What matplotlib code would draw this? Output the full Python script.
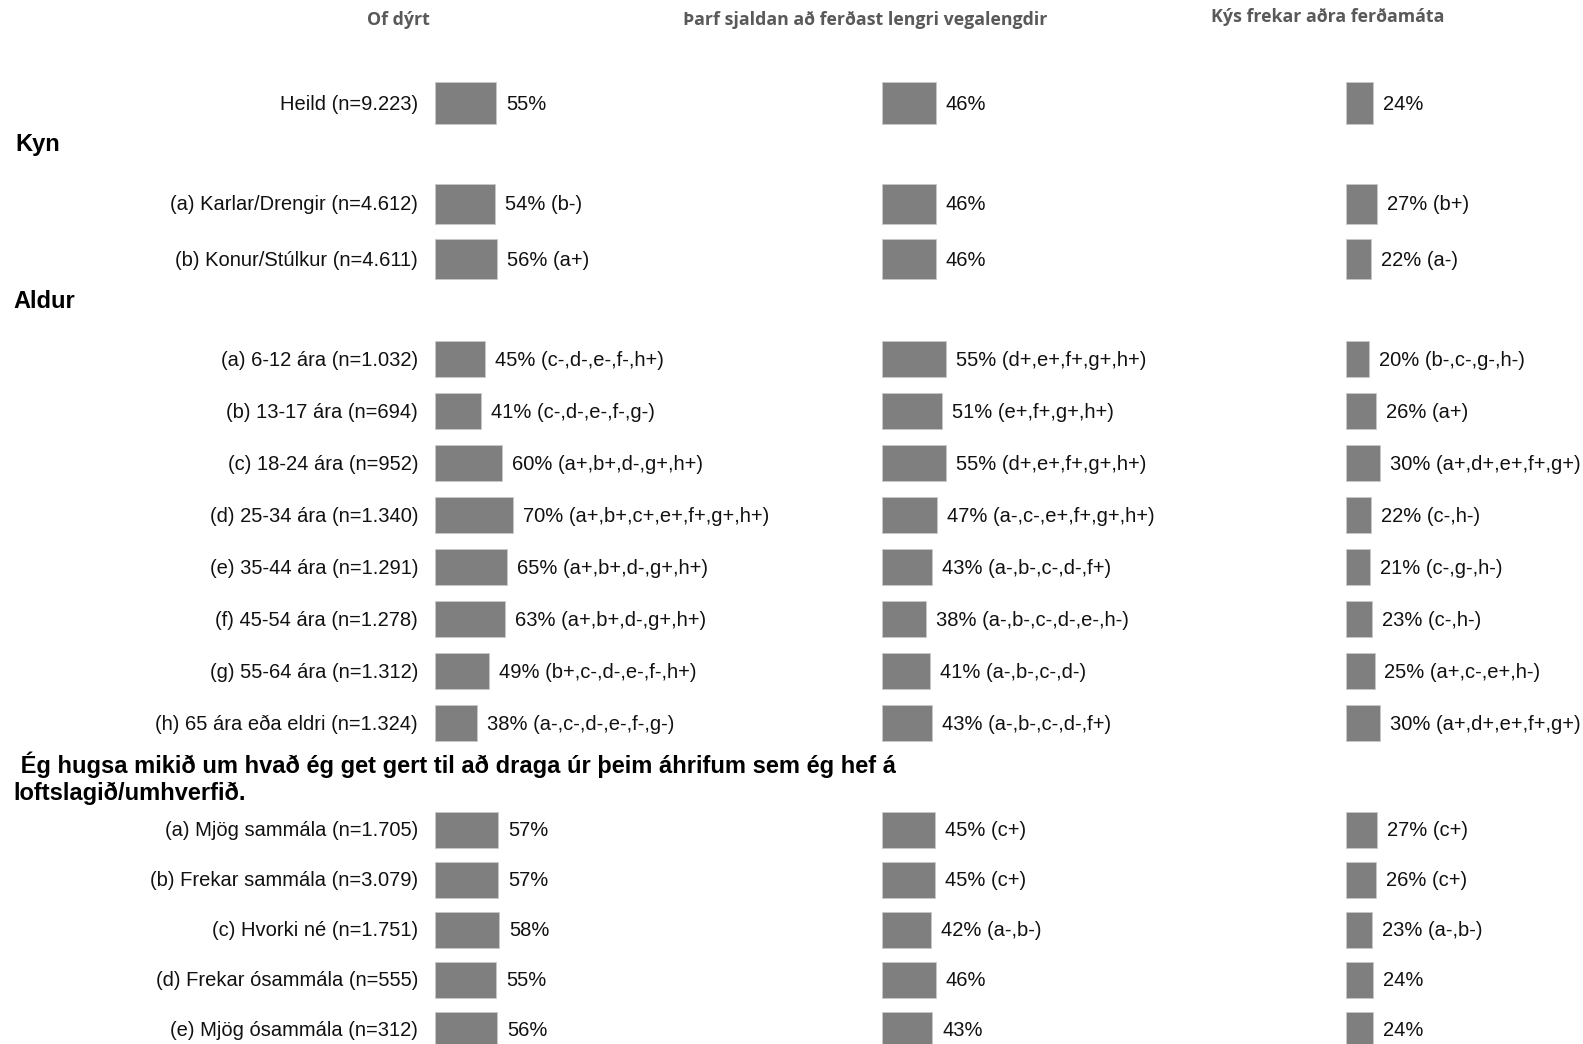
import matplotlib.pyplot as plt

W, H = 1583, 1044

# column titles
titles = ["Of dýrt", "Þarf sjaldan að ferðast lengri vegalengdir", "Kýs frekar aðra ferðamáta"]

# row labels per group
heild_labels = ["Heild (n=9.223)"]
kyn_labels = ["(a) Karlar/Drengir (n=4.612)", "(b) Konur/Stúlkur (n=4.611)"]
aldur_labels = ["(a) 6-12 ára (n=1.032)", "(b) 13-17 ára (n=694)", "(c) 18-24 ára (n=952)",
                "(d) 25-34 ára (n=1.340)", "(e) 35-44 ára (n=1.291)", "(f) 45-54 ára (n=1.278)",
                "(g) 55-64 ára (n=1.312)", "(h) 65 ára eða eldri (n=1.324)"]
hugsa_labels = ["(a) Mjög sammála (n=1.705)", "(b) Frekar sammála (n=3.079)", "(c) Hvorki né (n=1.751)",
                "(d) Frekar ósammála (n=555)", "(e) Mjög ósammála (n=312)"]

# values (percent) and significance notes, one list per column
dyrt_vals = [55, 54, 56, 45, 41, 60, 70, 65, 63, 49, 38, 57, 57, 58, 55, 56]
dyrt_sig = ["", "(b-)", "(a+)", "(c-,d-,e-,f-,h+)", "(c-,d-,e-,f-,g-)", "(a+,b+,d-,g+,h+)",
            "(a+,b+,c+,e+,f+,g+,h+)", "(a+,b+,d-,g+,h+)", "(a+,b+,d-,g+,h+)", "(b+,c-,d-,e-,f-,h+)",
            "(a-,c-,d-,e-,f-,g-)", "", "", "", "", ""]
sjaldan_vals = [46, 46, 46, 55, 51, 55, 47, 43, 38, 41, 43, 45, 45, 42, 46, 43]
sjaldan_sig = ["", "", "", "(d+,e+,f+,g+,h+)", "(e+,f+,g+,h+)", "(d+,e+,f+,g+,h+)", "(a-,c-,e+,f+,g+,h+)",
               "(a-,b-,c-,d-,f+)", "(a-,b-,c-,d-,e-,h-)", "(a-,b-,c-,d-)", "(a-,b-,c-,d-,f+)",
               "(c+)", "(c+)", "(a-,b-)", "", ""]
adra_vals = [24, 27, 22, 20, 26, 30, 22, 21, 23, 25, 30, 27, 26, 23, 24, 24]
adra_sig = ["", "(b+)", "(a-)", "(b-,c-,g-,h-)", "(a+)", "(a+,d+,e+,f+,g+)", "(c-,h-)", "(c-,g-,h-)",
            "(c-,h-)", "(a+,c-,e+,h-)", "(a+,d+,e+,f+,g+)", "(c+)", "(c+)", "(a-,b-)", "", ""]

# layout (pixel rows)
ys = [103] + [204, 259] + [359 + 52 * i for i in range(8)] + [830 + 50 * i for i in range(5)]
hs = [42] + [40] * 2 + [36] * 8 + [36] * 5
labels = heild_labels + kyn_labels + aldur_labels + hugsa_labels

columns = [(dyrt_vals, dyrt_sig), (sjaldan_vals, sjaldan_sig), (adra_vals, adra_sig)]
starts = [435, 882, 1346]
scales = [1.11, 1.17, 1.14]  # px per percent
title_pos = [(398, 20), (865, 20), (1328, 17)]

plt.rcParams['font.family'] = ['Liberation Sans', 'DejaVu Sans']
fig = plt.figure(figsize=(W / 100, H / 100), dpi=100)

for k, ((vals, sig), x0, sc) in enumerate(zip(columns, starts, scales)):
    ax = fig.add_axes([x0 / W, 0, 100 * sc / W, 1])
    ax.set_xlim(0, 100)
    ax.set_ylim(H, 0)
    ax.axis('off')
    ax.barh(ys, vals, height=hs, color='#7f7f7f', edgecolor='#c8c8c8', linewidth=0.6)
    for y, v, s in zip(ys, vals, sig):
        txt = f"{v}%" + (f" {s}" if s else "")
        ax.annotate(txt, (v, y), xytext=(10, -1), textcoords='offset pixels',
                    ha='left', va='center', fontsize=14.5, color='#111111', annotation_clip=False)
    if k == 0:
        for y, lab in zip(ys, labels):
            ax.annotate(lab, (0, y), xytext=(-17, -1), textcoords='offset pixels',
                        ha='right', va='center', fontsize=14.5, color='#111111', annotation_clip=False)
    tx, ty = title_pos[k]
    fig.text(tx / W, 1 - ty / H, titles[k], ha='center', va='center', fontsize=12.8,
             fontweight='bold', color='#595959', family=['Open Sans', 'DejaVu Sans'])

fig.text(15 / W, 1 - 144 / H, "Kyn", ha='left', va='center', fontsize=17, fontweight='bold')
fig.text(13 / W, 1 - 302 / H, "Aldur", ha='left', va='center', fontsize=17, fontweight='bold')
fig.text(14 / W, 1 - 765 / H, " Ég hugsa mikið um hvað ég get gert til að draga úr þeim áhrifum sem ég hef á",
         ha='left', va='center', fontsize=17, fontweight='bold')
fig.text(13 / W, 1 - 793 / H, "loftslagið/umhverfið.", ha='left', va='center', fontsize=17, fontweight='bold')

fig.savefig("out.png", dpi=100)
